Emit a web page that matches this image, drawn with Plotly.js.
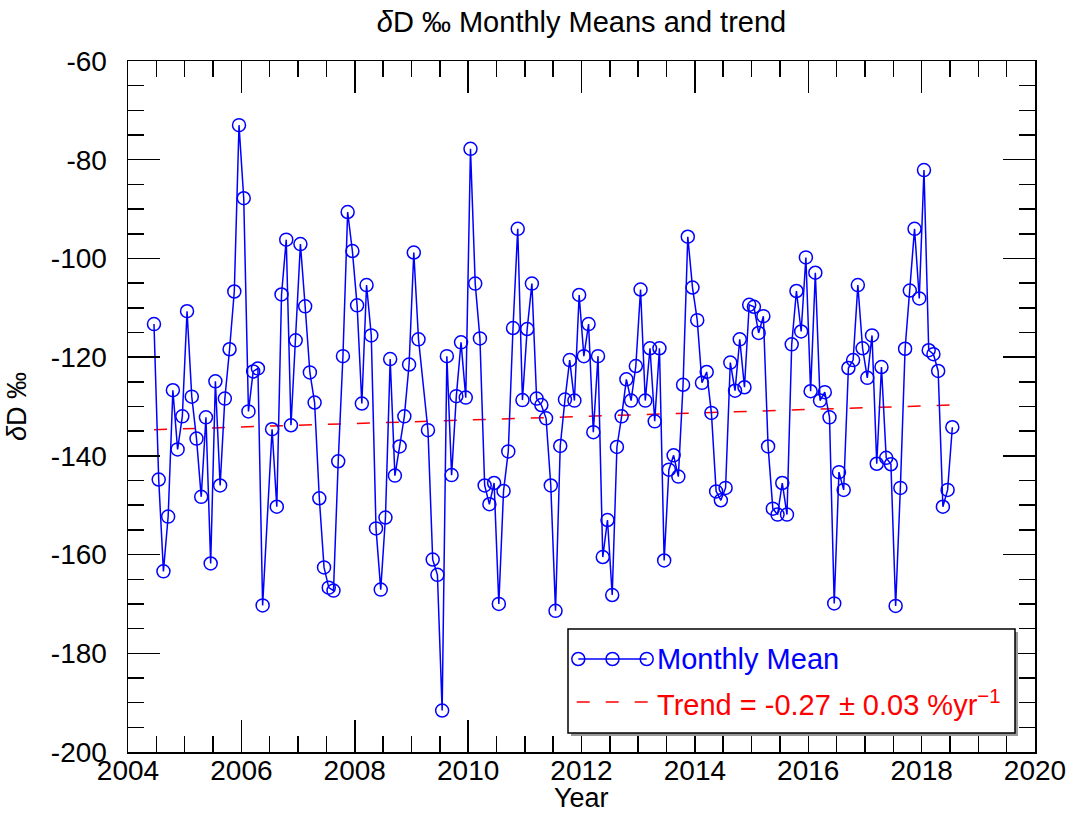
<!DOCTYPE html>
<html>
<head>
<meta charset="utf-8">
<script src="https://cdn.plot.ly/plotly-3.0.1.min.js"></script>
<style>html,body{margin:0;padding:0;background:#fff;}#chart{width:1072px;height:813px;}</style>
</head>
<body>
<div id="chart"></div>
<script>
// Monthly sample dates (YYYY-MM); June 2006 and March 2009 are missing
var months = [
 '2004-06','2004-07','2004-08','2004-09','2004-10','2004-11','2004-12',
 '2005-01','2005-02','2005-03','2005-04','2005-05','2005-06','2005-07','2005-08','2005-09','2005-10','2005-11','2005-12',
 '2006-01','2006-02','2006-03','2006-04','2006-05','2006-07','2006-08','2006-09','2006-10','2006-11','2006-12',
 '2007-01','2007-02','2007-03','2007-04','2007-05','2007-06','2007-07','2007-08','2007-09','2007-10','2007-11','2007-12',
 '2008-01','2008-02','2008-03','2008-04','2008-05','2008-06','2008-07','2008-08','2008-09','2008-10','2008-11','2008-12',
 '2009-01','2009-02','2009-04','2009-05','2009-06','2009-07','2009-08','2009-09','2009-10','2009-11','2009-12',
 '2010-01','2010-02','2010-03','2010-04','2010-05','2010-06','2010-07','2010-08','2010-09','2010-10','2010-11','2010-12',
 '2011-01','2011-02','2011-03','2011-04','2011-05','2011-06','2011-07','2011-08','2011-09','2011-10','2011-11','2011-12',
 '2012-01','2012-02','2012-03','2012-04','2012-05','2012-06','2012-07','2012-08','2012-09','2012-10','2012-11','2012-12',
 '2013-01','2013-02','2013-03','2013-04','2013-05','2013-06','2013-07','2013-08','2013-09','2013-10','2013-11','2013-12',
 '2014-01','2014-02','2014-03','2014-04','2014-05','2014-06','2014-07','2014-08','2014-09','2014-10','2014-11','2014-12',
 '2015-01','2015-02','2015-03','2015-04','2015-05','2015-06','2015-07','2015-08','2015-09','2015-10','2015-11','2015-12',
 '2016-01','2016-02','2016-03','2016-04','2016-05','2016-06','2016-07','2016-08','2016-09','2016-10','2016-11','2016-12',
 '2017-01','2017-02','2017-03','2017-04','2017-05','2017-06','2017-07','2017-08','2017-09','2017-10','2017-11','2017-12',
 '2018-01','2018-02','2018-03','2018-04','2018-05','2018-06','2018-07'
];
// Monthly mean deltaD (per mil)
var monthlyMean = [
 -113.3,-144.8,-163.4,-152.3,-126.7,-138.7,-132.0,
 -110.7,-128.0,-136.5,-148.3,-132.2,-161.8,-124.9,-146.0,-128.4,-118.4,-106.7,-73.0,
 -87.8,-131.0,-122.9,-122.3,-170.3,-134.6,-150.3,-107.3,-96.2,-133.8,-116.6,
 -97.1,-109.7,-123.1,-129.2,-148.6,-162.6,-166.7,-167.3,-141.1,-119.8,-90.6,-98.5,
 -109.5,-129.4,-105.4,-115.6,-154.7,-167.1,-152.5,-120.4,-144.0,-138.1,-132.0,-121.5,
 -98.8,-116.4,-134.8,-161.0,-164.1,-191.6,-119.8,-143.9,-127.9,-117.0,-128.2,
 -77.8,-105.1,-116.2,-146.0,-149.8,-145.5,-170.0,-147.1,-139.1,-114.1,-94.0,-128.7,
 -114.3,-105.1,-128.4,-129.7,-132.4,-146.0,-171.4,-138.0,-128.6,-120.6,-128.8,-107.4,
 -119.8,-113.3,-135.2,-119.8,-160.5,-153.0,-168.2,-138.2,-132.0,-124.5,-128.8,-121.8,
 -106.3,-128.8,-118.2,-133.0,-118.2,-161.2,-142.8,-139.9,-144.2,-125.6,-95.6,-105.9,
 -112.5,-125.2,-123.0,-131.3,-147.2,-149.0,-146.5,-121.1,-126.8,-116.4,-126.1,-109.4,
 -109.8,-115.1,-111.7,-138.1,-150.7,-151.9,-145.5,-151.9,-117.4,-106.6,-114.8,-99.8,
 -126.9,-102.9,-128.8,-127.1,-132.2,-169.9,-143.3,-146.9,-122.2,-120.6,-105.4,-118.2,
 -124.2,-115.6,-141.6,-122.0,-140.4,-141.7,-170.4,-146.5,-118.3,-106.5,-94.0,-108.1,
 -82.1,-118.6,-119.4,-122.8,-150.3,-146.9,-134.2
];
// Trend line end values (first and last month)
var trendValues = [-134.7, -129.7];
var xTickVals = [2004,2006,2008,2010,2012,2014,2016,2018,2020];
var yTickVals = [-60,-80,-100,-120,-140,-160,-180,-200];
var legendLabels = ['Monthly Mean', 'Trend = -0.27 \u00b1 0.03 %yr<sup>\u22121</sup>'];

function decYear(s){ var p=s.split('-'); return +p[0] + (+p[1]-0.5)/12; }
var xs = months.map(decYear);
var trendX = [xs[0], xs[xs.length-1]];

var BLUE='#0000ff', RED='#ff0000';
var FONT='Liberation Sans, Arial, Helvetica, sans-serif';

var traces = [
 {x: trendX, y: trendValues, mode:'lines', line:{color:RED, width:1.5, dash:'13px,16px'}, showlegend:false, hoverinfo:'skip'},
 {x: xs, y: monthlyMean, mode:'lines+markers', line:{color:BLUE, width:1.5},
  marker:{symbol:'circle-open', size:13, color:BLUE, line:{width:1.5, color:BLUE}}, showlegend:false}
];

// paper coordinates helpers for the hand-drawn legend (plot area 128..1035 x 61..752 px)
function fx(px){ return (px-128)/907; }
function fy(py){ return (752-py)/691; }
var circ = function(px,py,color){
  return {type:'circle', xref:'paper', yref:'paper', xsizemode:'pixel', ysizemode:'pixel',
    xanchor:fx(px), yanchor:fy(py), x0:-6.5, x1:6.5, y0:-6.5, y1:6.5,
    line:{color:color, width:1.5}, fillcolor:'rgba(0,0,0,0)', layer:'above'};
};
var shapes = [
  {type:'rect', xref:'paper', yref:'paper', x0:fx(571), x1:fx(1018), y0:fy(736), y1:fy(632), line:{width:0}, fillcolor:'#9a9a9a', layer:'above'},
  {type:'rect', xref:'paper', yref:'paper', x0:fx(568), x1:fx(1015), y0:fy(733), y1:fy(629), line:{color:'#000', width:1.5}, fillcolor:'#fff', layer:'above'},
  {type:'line', xref:'paper', yref:'paper', x0:fx(578.3), x1:fx(646.7), y0:fy(659), y1:fy(659), line:{color:BLUE, width:1.5}, layer:'above'},
  circ(578.3,659,BLUE), circ(612.5,659,BLUE), circ(646.7,659,BLUE),
  {type:'line', xref:'paper', yref:'paper', x0:fx(576.7), x1:fx(649), y0:fy(702), y1:fy(702), line:{color:RED, width:1.5, dash:'13px,16px'}, layer:'above'}
];
var annotations = [
  {xref:'paper', yref:'paper', x:fx(655), y:fy(659), xanchor:'left', yanchor:'middle', text:legendLabels[0], showarrow:false, font:{family:FONT, size:29, color:BLUE}},
  {xref:'paper', yref:'paper', x:fx(655), y:fy(703), xanchor:'left', yanchor:'middle', text:legendLabels[1], showarrow:false, font:{family:FONT, size:29, color:RED}},
  {xref:'paper', yref:'paper', x:0.5, y:fy(814), xanchor:'center', yanchor:'bottom', borderpad:0, text:'Year', showarrow:false, font:{family:FONT, size:27, color:'#000'}}
];

var axisCommon = {
  showgrid:false, zeroline:false, showline:true, linecolor:'#000', linewidth:1.5, mirror:'ticks',
  ticks:'inside', ticklen:32, tickwidth:1.5, tickcolor:'#000',
  tickfont:{family:FONT, size:28, color:'#000'}
};

var layout = {
  width:1072, height:813,
  margin:{l:128, r:37, t:61, b:61},
  paper_bgcolor:'#fff', plot_bgcolor:'#fff',
  font:{family:FONT, color:'#000'},
  title:{text:'<i>\u03b4</i>D \u2030 Monthly Means and trend', x:0.5, xref:'paper', y:1-22/813, yref:'container', yanchor:'middle', font:{family:FONT, size:29, color:'#000'}},
  xaxis: Object.assign({}, axisCommon, {
    range:[2004,2020], tickmode:'array', tickvals:xTickVals, ticktext:xTickVals.map(String),
    ticklabelstandoff:-7,
    minor:{tick0:2004, dtick:0.5, ticks:'inside', ticklen:16, tickwidth:1.5, tickcolor:'#000', showgrid:false}
  }),
  yaxis: Object.assign({}, axisCommon, {
    range:[-200,-60], tickmode:'array', tickvals:yTickVals, ticktext:yTickVals.map(String),
    ticklabelstandoff:14,
    minor:{tick0:-200, dtick:5, ticks:'inside', ticklen:16, tickwidth:1.5, tickcolor:'#000', showgrid:false},
    title:{text:'<i>\u03b4</i>D \u2030', font:{family:FONT, size:27, color:'#000'}, standoff:16}
  }),
  shapes:shapes, annotations:annotations, showlegend:false
};

Plotly.newPlot('chart', traces, layout, {displayModeBar:false, staticPlot:true});
</script>
</body>
</html>
